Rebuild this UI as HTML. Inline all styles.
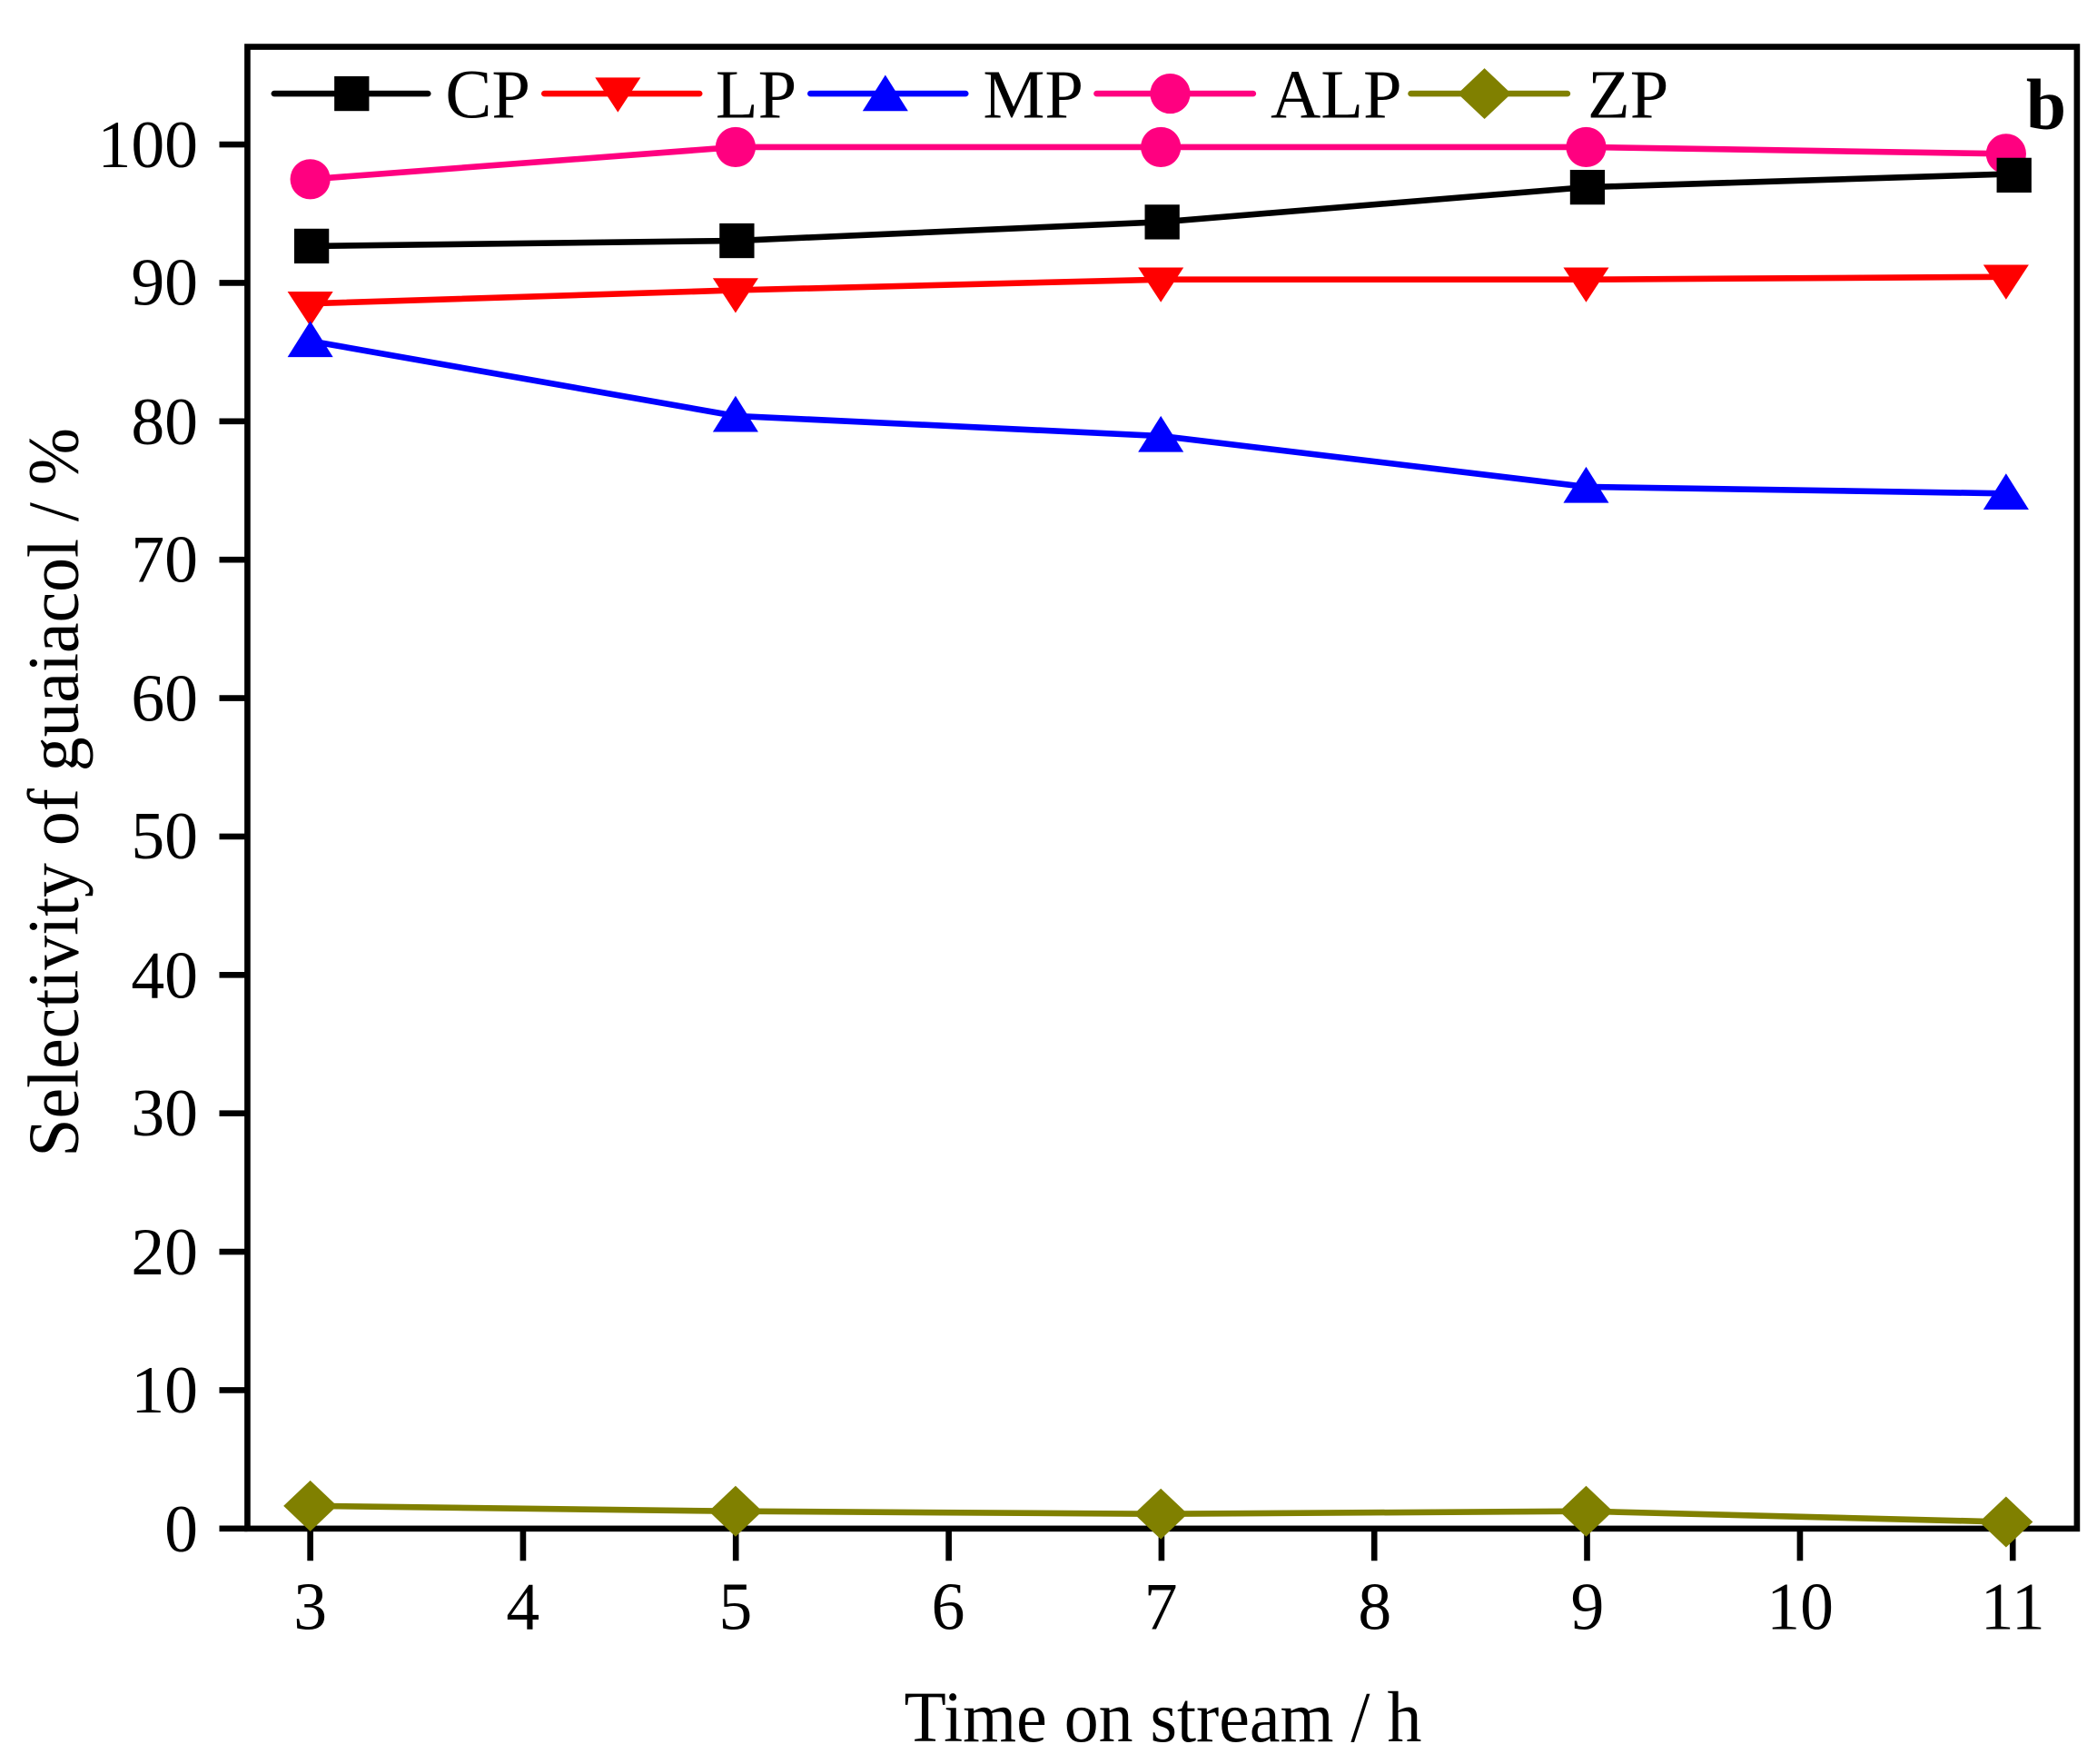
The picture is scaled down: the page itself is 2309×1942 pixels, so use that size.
<!DOCTYPE html>
<html><head><meta charset="utf-8"><style>html,body{margin:0;padding:0;background:#fff}svg{display:block}</style></head>
<body>
<svg width="2309" height="1942" viewBox="0 0 1568 1319" preserveAspectRatio="none" xmlns="http://www.w3.org/2000/svg" font-family="'Liberation Serif', serif">
<rect x="0" y="0" width="1568" height="1319" fill="#fff"/>
<g stroke="#000" stroke-width="4.5">
<rect x="185" y="35" width="1368" height="1108" fill="none"/>
<line x1="164" y1="1143" x2="185" y2="1143"/><line x1="164" y1="1039.5" x2="185" y2="1039.5"/><line x1="164" y1="936" x2="185" y2="936"/><line x1="164" y1="832.5" x2="185" y2="832.5"/><line x1="164" y1="729" x2="185" y2="729"/><line x1="164" y1="625.5" x2="185" y2="625.5"/><line x1="164" y1="522" x2="185" y2="522"/><line x1="164" y1="418.5" x2="185" y2="418.5"/><line x1="164" y1="315" x2="185" y2="315"/><line x1="164" y1="211.5" x2="185" y2="211.5"/><line x1="164" y1="108" x2="185" y2="108"/>
<line x1="232" y1="1143" x2="232" y2="1167"/><line x1="391.1" y1="1143" x2="391.1" y2="1167"/><line x1="550.2" y1="1143" x2="550.2" y2="1167"/><line x1="709.4" y1="1143" x2="709.4" y2="1167"/><line x1="868.5" y1="1143" x2="868.5" y2="1167"/><line x1="1027.6" y1="1143" x2="1027.6" y2="1167"/><line x1="1186.7" y1="1143" x2="1186.7" y2="1167"/><line x1="1345.9" y1="1143" x2="1345.9" y2="1167"/><line x1="1505" y1="1143" x2="1505" y2="1167"/>
</g>
<g font-size="50" text-anchor="end" fill="#000">
<text x="148" y="1160">0</text><text x="148" y="1056">10</text><text x="148" y="953">20</text><text x="148" y="849">30</text><text x="148" y="746">40</text><text x="148" y="642">50</text><text x="148" y="539">60</text><text x="148" y="435">70</text><text x="148" y="332">80</text><text x="148" y="228">90</text><text x="148" y="125">100</text>
</g>
<g font-size="50" text-anchor="middle" fill="#000">
<text x="232" y="1218">3</text><text x="391" y="1218">4</text><text x="550" y="1218">5</text><text x="709" y="1218">6</text><text x="868" y="1218">7</text><text x="1028" y="1218">8</text><text x="1187" y="1218">9</text><text x="1346" y="1218">10</text><text x="1505" y="1218">11</text>
</g>
<text x="676" y="1302" font-size="54" textLength="387" lengthAdjust="spacingAndGlyphs">Time on stream / h</text>
<text transform="translate(58,865) rotate(-90)" font-size="54" textLength="545" lengthAdjust="spacingAndGlyphs">Selectivity of guaiacol / %</text>
<text x="1530" y="96" font-size="54" font-weight="bold" text-anchor="middle">b</text>
<g stroke-width="4.5" fill="none">
<polyline stroke="#ff0080" points="232,134 550,110 868,110 1186,110 1500,115"/>
<polyline stroke="#000" points="232,184 550,180 868,166 1186,140 1505,130"/>
<polyline stroke="#f00" points="232,227 550,217 868,209 1186,209 1500,207"/>
<polyline stroke="#00f" points="232,255 550,311 868,326 1186,364 1500,369"/>
<polyline stroke="#808000" points="232,1126 550,1130 868,1132 1186,1130 1500,1138"/>
</g>
<g fill="#ff0080"><circle cx="232" cy="134" r="15"/><circle cx="550" cy="110" r="15"/><circle cx="868" cy="110" r="15"/><circle cx="1186" cy="110" r="15"/><circle cx="1500" cy="115" r="15"/></g>
<g fill="#000"><rect x="220" y="171" width="26" height="26"/><rect x="538" y="167" width="26" height="26"/><rect x="856" y="153" width="26" height="26"/><rect x="1174" y="127" width="26" height="26"/><rect x="1493" y="118" width="26" height="26"/></g>
<g fill="#f00"><polygon points="215,218 249,218 232,244"/><polygon points="533,208 567,208 550,234"/><polygon points="851,200 885,200 868,226"/><polygon points="1169,200 1203,200 1186,226"/><polygon points="1483,198 1517,198 1500,224"/></g>
<g fill="#00f"><polygon points="215,267 249,267 232,240"/><polygon points="533,323 567,323 550,296"/><polygon points="851,338 885,338 868,311"/><polygon points="1169,376 1203,376 1186,349"/><polygon points="1483,381 1517,381 1500,354"/></g>
<g fill="#808000"><polygon points="232,1107 252,1126 232,1145 212,1126"/><polygon points="550,1111 570,1130 550,1149 530,1130"/><polygon points="868,1113 888,1132 868,1151 848,1132"/><polygon points="1186,1111 1206,1130 1186,1149 1166,1130"/><polygon points="1500,1119 1520,1138 1500,1157 1480,1138"/></g>
<g stroke-width="4.5" stroke-linecap="round">
<line x1="205" y1="70" x2="320" y2="70" stroke="#000"/>
<line x1="407" y1="70" x2="523" y2="70" stroke="#f00"/>
<line x1="606" y1="70" x2="722" y2="70" stroke="#00f"/>
<line x1="820" y1="70" x2="937" y2="70" stroke="#ff0080"/>
<line x1="1055" y1="70" x2="1172" y2="70" stroke="#808000"/>
</g>
<rect x="250" y="57" width="26" height="26" fill="#000"/>
<polygon points="445,58 479,58 462,84" fill="#f00"/>
<polygon points="645,83 679,83 662,56" fill="#00f"/>
<circle cx="875" cy="70" r="15" fill="#ff0080"/>
<polygon points="1110,51 1130,70 1110,89 1090,70" fill="#808000"/>
<g font-size="52" fill="#000">
<text x="333" y="88">CP</text><text x="535" y="88">LP</text><text x="735" y="88">MP</text><text x="950" y="88">ALP</text><text x="1187" y="88">ZP</text>
</g>
</svg>
</body></html>
